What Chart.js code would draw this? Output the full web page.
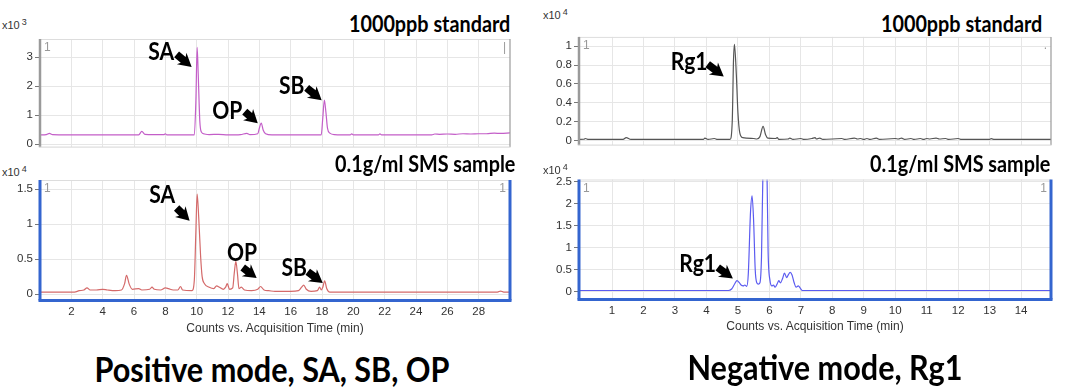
<!DOCTYPE html>
<html>
<head>
<meta charset="utf-8">
<script src="https://cdn.jsdelivr.net/npm/chart.js@4.4.1/dist/chart.umd.min.js"></script>
<style>
  body { margin: 0; width: 1065px; height: 388px; background: #fff; position: relative; overflow: hidden; font-family: "Liberation Sans", Arial, sans-serif; }
  .box { position: absolute; }
  .big { position: absolute; font-family: Lato, "Noto Sans", sans-serif; font-weight: bold; white-space: nowrap; color: #000; line-height: 24px; transform-origin: right center; transform: scaleX(0.9); }
  .cap { position: absolute; font-family: Lato, "Noto Sans", sans-serif; font-weight: bold; white-space: nowrap; color: #000; font-size: 34px; line-height: 34px; transform: translateX(-50%) scaleX(0.9); }
  .exp { position: absolute; font-size: 11px; color: #333; white-space: nowrap; }
  .exp sup { font-size: 9px; position: relative; top: -2px; vertical-align: top; margin-left: 2px; }
  .axt { position: absolute; font-size: 12px; color: #333; white-space: nowrap; transform: translateX(-50%); }
</style>
</head>
<body>

<div class="exp" style="left:2px;top:19px">x10<sup>3</sup></div>
<div class="big" style="right:555px;top:12px;font-size:22px">1000ppb standard</div>
<div class="box" style="left:0;top:30px;width:520px;height:126px"><canvas id="posStd"></canvas></div>

<div class="exp" style="left:2px;top:166px">x10<sup>4</sup></div>
<div class="big" style="right:550px;top:152px;font-size:22px">0.1g/ml SMS sample</div>
<div class="box" style="left:0;top:170px;width:520px;height:151px"><canvas id="posSample"></canvas></div>
<div class="axt" style="left:275px;top:321px">Counts vs. Acquisition Time (min)</div>

<div class="exp" style="left:543px;top:9px">x10<sup>4</sup></div>
<div class="big" style="right:23px;top:12px;font-size:22px">1000ppb standard</div>
<div class="box" style="left:535px;top:28px;width:530px;height:126px"><canvas id="negStd"></canvas></div>

<div class="exp" style="left:543px;top:164px">x10<sup>4</sup></div>
<div class="big" style="right:15px;top:152px;font-size:22px">0.1g/ml SMS sample</div>
<div class="box" style="left:535px;top:170px;width:530px;height:150px"><canvas id="negSample"></canvas></div>
<div class="axt" style="left:815px;top:319px">Counts vs. Acquisition Time (min)</div>

<div class="cap" style="left:272px;top:352px">Positive mode, SA, SB, OP</div>
<div class="cap" style="left:825px;top:350px">Negative mode, Rg1</div>

<script>
// acquisition time (min), counts (scaled by the x10^n shown on each panel)
const posStd = [
  [0, 0.32], [0.4, 0.33], [0.6, 0.37], [0.8, 0.33], [3, 0.32], [6.3, 0.32], [6.5, 0.44], [6.7, 0.34],
  [7.9, 0.33], [8.0, 0.36], [8.1, 0.32], [9.85, 0.32], [9.95, 1.5], [10.03, 3.33], [10.1, 2.4],
  [10.2, 0.8], [10.3, 0.42], [10.5, 0.35], [10.8, 0.33], [11.4, 0.34], [12, 0.32], [12.8, 0.33],
  [13.2, 0.37], [13.4, 0.33], [13.9, 0.36], [14.0, 0.55], [14.12, 0.73], [14.25, 0.48], [14.4, 0.36],
  [14.8, 0.32], [17.95, 0.32], [18.05, 0.9], [18.15, 1.52], [18.25, 1.1], [18.35, 0.55], [18.5, 0.38],
  [18.8, 0.33], [19.8, 0.32], [19.9, 0.36], [20, 0.32], [21.6, 0.32], [21.7, 0.36], [21.8, 0.32],
  [25, 0.32], [25.2, 0.35], [25.5, 0.34], [26, 0.35], [26.5, 0.34], [27, 0.36], [27.5, 0.35],
  [28, 0.36], [28.5, 0.36], [29, 0.38], [29.4, 0.37], [30, 0.39]
];

const posSample = [
  [0, 0.03], [2.2, 0.03], [2.5, 0.05], [2.8, 0.06], [3.0, 0.09], [3.2, 0.06], [3.6, 0.06], [4.0, 0.07],
  [4.3, 0.06], [4.8, 0.05], [5.2, 0.06], [5.4, 0.15], [5.52, 0.27], [5.7, 0.14], [5.9, 0.07], [6.3, 0.08],
  [6.5, 0.06], [7.0, 0.07], [7.15, 0.1], [7.3, 0.07], [7.7, 0.06], [8.0, 0.09], [8.2, 0.08], [8.5, 0.06],
  [8.8, 0.06], [8.97, 0.11], [9.1, 0.06], [9.7, 0.05], [9.85, 0.2], [9.95, 0.9], [10.03, 1.43],
  [10.13, 1.1], [10.25, 0.55], [10.35, 0.25], [10.5, 0.15], [10.8, 0.1], [11.1, 0.08], [11.27, 0.12],
  [11.45, 0.1], [11.7, 0.07], [11.85, 0.1], [11.95, 0.15], [12.1, 0.07], [12.3, 0.09], [12.4, 0.3],
  [12.5, 0.47], [12.6, 0.3], [12.7, 0.08], [12.85, 0.1], [13.05, 0.06], [13.5, 0.05], [13.9, 0.07],
  [14.08, 0.11], [14.3, 0.06], [14.6, 0.05], [15, 0.04], [15.5, 0.04], [16, 0.04], [16.5, 0.05],
  [16.7, 0.1], [16.83, 0.13], [17.0, 0.07], [17.3, 0.04], [17.7, 0.05], [17.85, 0.1], [17.95, 0.06],
  [18.05, 0.1], [18.17, 0.19], [18.3, 0.08], [18.5, 0.03], [29.2, 0.03], [29.4, 0.045], [29.6, 0.03],
  [30, 0.03]
];

const negStd = [
  [-0.05, 0.01], [0.1, 0.012], [0.15, 0.02], [0.25, 0.01], [1.35, 0.01], [1.45, 0.03], [1.6, 0.01],
  [3.9, 0.01], [3.95, 0.025], [4.05, 0.01], [4.25, 0.02], [4.35, 0.01], [4.75, 0.01], [4.82, 0.2],
  [4.86, 0.85], [4.89, 1.02], [4.95, 0.7], [5.0, 0.3], [5.06, 0.08], [5.15, 0.03], [5.5, 0.02],
  [5.6, 0.015], [5.7, 0.04], [5.8, 0.15], [5.88, 0.06], [5.95, 0.025], [6.2, 0.02], [6.25, 0.03],
  [6.3, 0.01], [6.6, 0.015], [6.65, 0.025], [6.75, 0.01], [7.0, 0.02], [7.1, 0.01], [7.35, 0.02],
  [7.45, 0.03], [7.5, 0.015], [7.6, 0.025], [7.7, 0.01], [8.3, 0.02], [8.4, 0.01], [8.7, 0.025],
  [8.8, 0.015], [8.9, 0.02], [9.0, 0.01], [9.1, 0.02], [9.2, 0.01], [9.4, 0.025], [9.5, 0.01],
  [10.0, 0.02], [10.1, 0.015], [10.2, 0.025], [10.3, 0.01], [10.5, 0.02], [10.6, 0.01], [10.8, 0.02],
  [10.9, 0.01], [11.0, 0.02], [11.1, 0.015], [11.3, 0.025], [11.4, 0.015], [11.6, 0.02], [11.7, 0.01],
  [12.0, 0.02], [12.1, 0.01], [13.0, 0.01], [13.05, 0.018], [13.15, 0.01], [14.95, 0.01]
];

const negSample = [
  [-0.05, 0.025], [4.7, 0.025], [4.8, 0.06], [4.9, 0.18], [4.97, 0.25], [5.05, 0.2], [5.1, 0.15],
  [5.17, 0.13], [5.22, 0.15], [5.28, 0.12], [5.33, 0.4], [5.4, 1.8], [5.45, 2.18], [5.5, 1.6],
  [5.55, 0.5], [5.6, 0.2], [5.65, 0.17], [5.7, 0.2], [5.75, 0.8], [5.8, 2.9], [5.86, 3.4], [5.92, 2.9],
  [5.96, 0.9], [6.02, 0.25], [6.08, 0.13], [6.13, 0.15], [6.18, 0.1], [6.25, 0.18], [6.3, 0.25],
  [6.35, 0.2], [6.42, 0.3], [6.48, 0.42], [6.55, 0.32], [6.6, 0.38], [6.66, 0.44], [6.72, 0.38],
  [6.78, 0.22], [6.85, 0.1], [6.92, 0.13], [6.98, 0.08], [7.05, 0.025], [14.95, 0.025]
];

const posTimeTicks = [2, 4, 6, 8, 10, 12, 14, 16, 18, 20, 22, 24, 26, 28];
const negTimeTicks = [1, 2, 3, 4, 5, 6, 7, 8, 9, 10, 11, 12, 13, 14];
const posStdTicks = [0, 1, 2, 3];
const posSampleTicks = [0, 0.5, 1, 1.5];
const negStdTicks = [0, 0.2, 0.4, 0.6, 0.8, 1];
const negSampleTicks = [0, 0.5, 1, 1.5, 2, 2.5];

// peak labels: text centre, arrow tail, arrow head (data coords)
const posStdNotes = [
  { text: "SA", at: [7.73, 3.19], from: [8.72, 3.09], to: [9.68, 2.66] },
  { text: "OP", at: [11.95, 1.18], from: [13.07, 1.12], to: [13.9, 0.72] },
  { text: "SB", at: [16.07, 2.04], from: [17.02, 1.94], to: [17.98, 1.51] }
];
const posSampleNotes = [
  { text: "SA", at: [7.8, 1.42], from: [8.72, 1.23], to: [9.55, 1.05] },
  { text: "OP", at: [12.9, 0.6], from: [12.94, 0.38], to: [13.83, 0.23] },
  { text: "SB", at: [16.23, 0.39], from: [17.09, 0.32], to: [18.05, 0.16] }
];
const negStdNotes = [
  { text: "Rg1", at: [3.45, 0.84], from: [4.04, 0.81], to: [4.55, 0.68] }
];
const negSampleNotes = [
  { text: "Rg1", at: [3.72, 0.64], from: [4.36, 0.55], to: [4.84, 0.30] }
];

function drawArrow(ctx, x1, y1, x2, y2) {
  const a = Math.atan2(y2 - y1, x2 - x1), L = Math.hypot(x2 - x1, y2 - y1);
  const hw = 7.5, hl = 11, sw = 3.8;
  ctx.save();
  ctx.translate(x1, y1);
  ctx.rotate(a);
  ctx.beginPath();
  ctx.moveTo(0, -sw);
  ctx.lineTo(L - hl, -sw);
  ctx.lineTo(L - hl - 2, -hw);
  ctx.lineTo(L, 0);
  ctx.lineTo(L - hl - 2, hw);
  ctx.lineTo(L - hl, sw);
  ctx.lineTo(0, sw);
  ctx.closePath();
  ctx.fillStyle = "#000";
  ctx.fill();
  ctx.restore();
}

const decor = {
  id: "decor",
  afterDraw(chart, args, o) {
    const { ctx, chartArea: a, scales } = chart;
    ctx.save();
    // panel frame
    ctx.strokeStyle = "#dddddd"; ctx.lineWidth = 1;
    ctx.beginPath(); ctx.moveTo(a.left, a.top + 0.5); ctx.lineTo(a.right, a.top + 0.5); ctx.stroke();
    ctx.strokeStyle = o.frame; ctx.lineWidth = o.side;
    ctx.beginPath(); ctx.moveTo(a.left, a.top); ctx.lineTo(a.left, a.bottom); ctx.stroke();
    ctx.lineWidth = o.thin;
    ctx.beginPath(); ctx.moveTo(a.right, a.top); ctx.lineTo(a.right, a.bottom); ctx.stroke();
    ctx.strokeStyle = o.bottomColor; ctx.lineWidth = o.bottomWidth;
    ctx.beginPath(); ctx.moveTo(a.left - o.side / 2, a.bottom); ctx.lineTo(a.right + o.thin / 2, a.bottom); ctx.stroke();
    // trace numbers
    ctx.fillStyle = "#999"; ctx.font = "12px 'Liberation Sans', Arial";
    ctx.textBaseline = "middle"; ctx.textAlign = "left";
    ctx.fillText("1", a.left + 4, a.top + 9);
    if (o.rightMark) { ctx.textAlign = "right"; ctx.fillText(o.rightMark, a.right - 4, a.top + 9); }
    // peak labels and arrows
    const px = v => scales.x.getPixelForValue(v), py = v => scales.y.getPixelForValue(v);
    ctx.fillStyle = "#000"; ctx.font = "bold 24px Lato";
    ctx.textAlign = "center";
    o.notes.forEach(n => {
      ctx.save();
      ctx.translate(px(n.at[0]), py(n.at[1]));
      ctx.scale(0.88, 1);
      ctx.fillText(n.text, 0, 1);
      ctx.restore();
      drawArrow(ctx, px(n.from[0]), py(n.from[1]), px(n.to[0]), py(n.to[1]));
    });
    ctx.restore();
  }
};

function makeChart(id, pts, color, cfg) {
  return new Chart(document.getElementById(id), {
    type: "line",
    data: {
      datasets: [{
        data: pts.map(p => ({ x: p[0], y: p[1] })),
        borderColor: color,
        borderWidth: 1.2,
        pointRadius: 0,
        cubicInterpolationMode: "monotone"
      }]
    },
    options: {
      responsive: true,
      maintainAspectRatio: false,
      animation: false,
      events: [],
      layout: { padding: cfg.padding },
      plugins: {
        legend: { display: false },
        tooltip: { enabled: false },
        decor: cfg.decor
      },
      scales: {
        x: {
          type: "linear",
          min: cfg.xMin, max: cfg.xMax,
          afterBuildTicks: s => { s.ticks = cfg.xTicks.map(v => ({ value: v })); },
          afterFit: s => { s.height = cfg.xHeight; },
          border: { display: false },
          grid: { color: "#e6e6e6", drawTicks: false },
          ticks: {
            display: cfg.xLabels,
            padding: 4,
            color: "#333",
            font: { family: "'Liberation Sans', Arial", size: 11.5 },
            maxRotation: 0,
            callback: v => String(v)
          }
        },
        y: {
          min: cfg.yMin, max: cfg.yMax,
          afterBuildTicks: s => { s.ticks = cfg.yTicks.map(v => ({ value: v })); },
          afterFit: s => { s.width = cfg.yWidth; },
          border: { display: false },
          grid: { color: "#e6e6e6", tickColor: "#777", tickLength: 5 },
          ticks: {
            padding: 2,
            color: "#333",
            font: { family: "'Liberation Sans', Arial", size: 11.5 },
            callback: v => String(v)
          }
        }
      }
    },
    plugins: [decor]
  });
}

const grayFrame = { frame: "#9a9a9a", side: 2.5, thin: 1.2, bottomColor: "#d6d6d6", bottomWidth: 1 };
const blueFrame = { frame: "#3465cf", side: 3, thin: 3, bottomColor: "#3465cf", bottomWidth: 3 };

makeChart("posStd", posStd, "#c35ec8", {
  padding: { top: 9, right: 10, bottom: 4, left: 0 },
  xMin: 0, xMax: 30, xTicks: posTimeTicks, xLabels: false, xHeight: 0,
  yMin: -0.1, yMax: 3.62, yTicks: posStdTicks, yWidth: 40,
  decor: Object.assign({ notes: posStdNotes, rightMark: "|" }, grayFrame)
});

makeChart("posSample", posSample, "#d46a6a", {
  padding: { top: 10, right: 10, bottom: 0, left: 0 },
  xMin: 0, xMax: 30, xTicks: posTimeTicks, xLabels: true, xHeight: 20.5,
  yMin: -0.09, yMax: 1.63, yTicks: posSampleTicks, yWidth: 40,
  decor: Object.assign({ notes: posSampleNotes, rightMark: "1" }, blueFrame)
});

makeChart("negStd", negStd, "#555555", {
  padding: { top: 8, right: 14, bottom: 4, left: 0 },
  xMin: -0.05, xMax: 14.95, xTicks: negTimeTicks, xLabels: false, xHeight: 0,
  yMin: -0.05, yMax: 1.1, yTicks: negStdTicks, yWidth: 44,
  decor: Object.assign({ notes: negStdNotes, rightMark: "." }, grayFrame)
});

makeChart("negSample", negSample, "#5b5bf0", {
  padding: { top: 9.5, right: 14, bottom: 0, left: 0 },
  xMin: -0.05, xMax: 14.95, xTicks: negTimeTicks, xLabels: true, xHeight: 20.5,
  yMin: -0.18, yMax: 2.555, yTicks: negSampleTicks, yWidth: 44,
  decor: Object.assign({ notes: negSampleNotes, rightMark: "1" }, blueFrame)
});
</script>
</body>
</html>
